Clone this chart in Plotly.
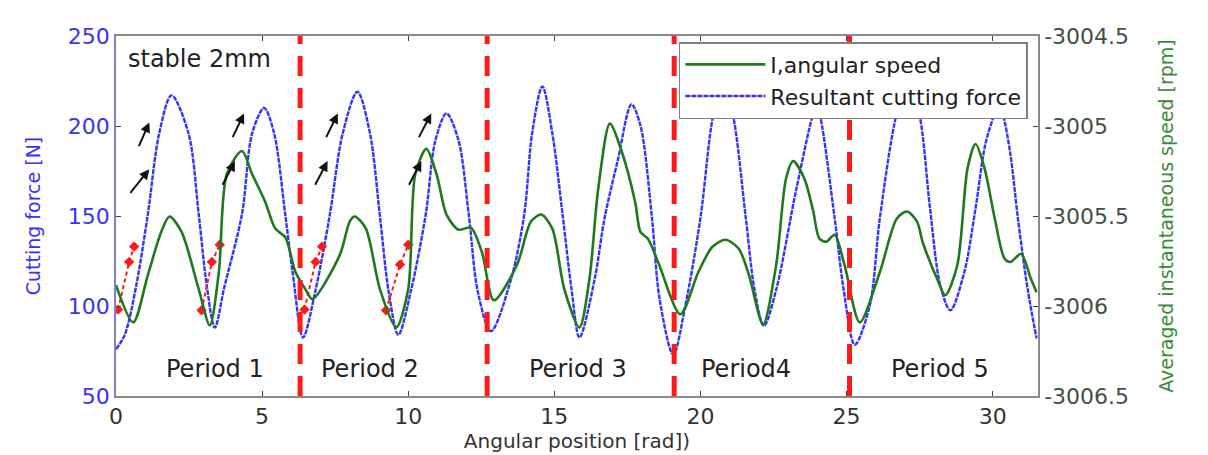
import plotly.graph_objects as go

# ---------------- data ----------------
theta_force = [0.0, 0.3, 0.7, 1.09, 1.48, 1.9, 2.48, 2.83, 3.1, 3.38,
               3.7, 4.31, 4.66, 5.07, 5.41, 5.79, 6.05, 6.4,
               6.83, 7.31, 7.76, 8.26, 8.69, 9.03, 9.33, 9.66,
               10.1, 10.6, 10.93, 11.31, 11.72, 12.07, 12.38, 12.83,
               13.52, 13.97, 14.24, 14.59, 14.93, 15.28, 15.59, 15.86,
               16.38, 16.72, 17.17, 17.64, 17.95, 18.34, 18.6, 19.07,
               19.48, 20.0, 20.45, 20.78, 21.1, 21.55, 21.85, 22.17,
               22.59, 23.28, 23.86, 23.97, 24.1, 24.59, 24.9, 25.28,
               25.79, 26.14, 26.72, 27.1, 27.48, 27.85, 28.2, 28.55,
               29.03, 29.41, 29.75, 30.07, 30.2, 30.34, 30.6, 30.86, 31.2, 31.5]
force_N = [76, 84, 112, 151, 196, 217, 196, 151, 112, 88,
           110, 151, 196, 210, 196, 151, 118, 82.5,
           109, 150, 196, 219, 196, 150, 108, 84,
           109, 151, 192, 207, 192, 151, 108, 86,
           115, 151, 196, 222, 196, 151, 109, 82.5,
           115, 149, 181, 212, 200, 149, 104, 73,
           100, 149, 207, 222, 207, 149, 109, 89,
           109, 165, 207, 211, 205, 149, 109, 78.5,
           100, 149, 207, 223, 207, 155, 112, 97.6,
           119, 154, 190, 207, 212, 207, 185, 149, 109, 82]

theta_speed = [0.0, 0.59, 1.09, 1.55, 1.83, 2.24, 2.83, 3.21,
               3.52, 3.79, 4.31, 4.66, 5.1, 5.45, 5.8, 6.14, 6.48, 6.72,
               7.66, 8.0, 8.17, 8.55, 9.03, 9.59,
               10.0, 10.24, 10.62, 10.97, 11.31, 11.72, 12.14, 12.52, 12.93,
               13.72, 14.2, 14.55, 14.93, 15.34, 15.86,
               16.2, 16.5, 16.9, 17.3, 17.76, 17.95, 18.2, 18.55, 19.31,
               19.93, 20.41, 20.86, 21.31, 21.66, 22.14,
               22.59, 22.93, 23.17, 23.55, 23.86, 24.07, 24.31, 24.59, 24.93, 25.45,
               26.14, 26.72, 27.07, 27.41, 27.6, 28.1, 28.38,
               28.79, 29.14, 29.41, 29.72, 30.07, 30.41, 30.62, 30.97, 31.31, 31.5]
speed_rpm = [-3005.884, -3006.091, -3005.828, -3005.587, -3005.503, -3005.587, -3005.906, -3006.108,
             -3005.811, -3005.268, -3005.139, -3005.268, -3005.419, -3005.57, -3005.62, -3005.811, -3005.906, -3005.962,
             -3005.716, -3005.53, -3005.503, -3005.57, -3005.906, -3006.119,
             -3005.906, -3005.268, -3005.127, -3005.268, -3005.492, -3005.576, -3005.565, -3005.7, -3005.968,
             -3005.772, -3005.531, -3005.492, -3005.57, -3005.906, -3006.119,
             -3005.85, -3005.35, -3004.987, -3005.139, -3005.419, -3005.59, -3005.626, -3005.755, -3006.046,
             -3005.811, -3005.671, -3005.632, -3005.682, -3005.828, -3006.102,
             -3005.772, -3005.29, -3005.195, -3005.29, -3005.475, -3005.626, -3005.643, -3005.604, -3005.772, -3006.091,
             -3005.811, -3005.514, -3005.475, -3005.531, -3005.643, -3005.85, -3005.94,
             -3005.772, -3005.234, -3005.1, -3005.234, -3005.514, -3005.738, -3005.755, -3005.71, -3005.85, -3005.923]

period_bounds = [6.3, 12.7, 19.1, 25.1]
period_labels = ["Period 1", "Period 2", "Period 3", "Period4", "Period 5"]
period_label_theta = [3.4, 8.7, 15.8, 21.55, 28.2]
period_label_level = 65

red_marks_theta = [[0.07, 0.45, 0.62], [2.93, 3.28, 3.55], [6.45, 6.83, 7.05], [9.24, 9.72, 10.0]]
red_marks_force = [[98, 124.5, 133], [97.6, 124.5, 134], [98, 124.5, 133], [97.6, 123, 134]]

arrow_tail_theta = [0.45, 0.76, 3.62, 3.97, 6.79, 7.17, 10.0, 10.34]
arrow_tail_force = [162, 188, 166.5, 193, 166.5, 193, 166.5, 193]
arrow_head_theta = [1.14, 1.14, 4.07, 4.38, 7.24, 7.59, 10.45, 10.79]
arrow_head_force = [176, 202, 180.5, 207, 180.5, 207, 180.5, 207]

x_ticks = [0, 5, 10, 15, 20, 25, 30]
force_ticks = [50, 100, 150, 200, 250]
speed_ticks = [-3006.5, -3006, -3005.5, -3005, -3004.5]
speed_ticktext = ["-3006.5", "-3006", "-3005.5", "-3005", "-3004.5"]

FONT = "DejaVu Sans"
BLUE = "#3535f2"
GREEN = "#1f7a1f"
RED = "#ff1a1a"

fig = go.Figure()

fig.add_trace(go.Scatter(
    x=theta_force, y=force_N, mode="lines", name="Resultant cutting force",
    line=dict(color=BLUE, width=2.4, dash="5px,1px", shape="spline", smoothing=0.9),
    yaxis="y", legendrank=2))

for tx, ty in zip(red_marks_theta, red_marks_force):
    fig.add_trace(go.Scatter(
        x=tx, y=ty, mode="lines+markers", showlegend=False,
        line=dict(color=RED, width=2, dash="4px,3px"),
        marker=dict(color=RED, size=8, symbol="diamond"), yaxis="y"))

fig.add_trace(go.Scatter(
    x=theta_speed, y=speed_rpm, mode="lines", name="I,angular speed",
    line=dict(color=GREEN, width=2.6, shape="spline", smoothing=0.8),
    yaxis="y2", legendrank=1))

for b in period_bounds:
    fig.add_shape(type="line", xref="x", yref="paper", x0=b, x1=b, y0=0, y1=1,
                  line=dict(color=RED, width=5, dash="20px,12px"), layer="above")

annotations = []
for lab, tx in zip(period_labels, period_label_theta):
    annotations.append(dict(x=tx, y=period_label_level, xref="x", yref="y", text=lab,
                            showarrow=False, font=dict(family=FONT, size=24, color="#222")))
annotations.append(dict(x=0.35, y=237.5, xref="x", yref="y", text="stable 2mm",
                        xanchor="left", showarrow=False,
                        font=dict(family=FONT, size=24, color="#222")))
for hx, hy, tx, ty in zip(arrow_head_theta, arrow_head_force, arrow_tail_theta, arrow_tail_force):
    annotations.append(dict(x=hx, y=hy, ax=tx, ay=ty, xref="x", yref="y", axref="x", ayref="y",
                            text="", showarrow=True, arrowhead=2, arrowsize=1,
                            arrowwidth=2, arrowcolor="#111"))

# the page body adds an 8px margin, so the figure is 8px smaller on each used side
fig.update_layout(
    width=1200, height=447,
    margin=dict(l=108, r=170, t=28, b=54),
    paper_bgcolor="white", plot_bgcolor="white",
    font=dict(family=FONT, color="#222"),
    annotations=annotations,
    xaxis=dict(range=[0, 31.55], tickvals=x_ticks, ticks="inside", ticklen=5,
               showline=True, mirror="ticks", linecolor="#8a8a8a", linewidth=1.5,
               showgrid=False, zeroline=False,
               tickfont=dict(family=FONT, size=22, color="#333"),
               title=dict(text="Angular position [rad])", standoff=0,
                          font=dict(family=FONT, size=20, color="#333"))),
    yaxis=dict(range=[50, 250], tickvals=force_ticks, ticks="inside", ticklen=5,
               showline=True, linecolor="#8080d0", linewidth=1.5,
               showgrid=False, zeroline=False,
               tickfont=dict(family=FONT, size=22, color=BLUE),
               title=dict(text="Cutting force [N]", standoff=22,
                          font=dict(family=FONT, size=19, color=BLUE))),
    yaxis2=dict(range=[-3006.5, -3004.5], overlaying="y", side="right",
                tickvals=speed_ticks, ticktext=speed_ticktext, ticks="inside", ticklen=5,
                showline=True, linecolor="#8a8a8a", linewidth=1.5,
                showgrid=False, zeroline=False,
                tickfont=dict(family=FONT, size=22, color="#3f523f"),
                title=dict(text="Averaged instantaneous speed [rpm]", standoff=32,
                           font=dict(family=FONT, size=19, color="#3a8a3a"))),
    legend=dict(x=0.989, y=0.983, xanchor="right", yanchor="top",
                bgcolor="white", bordercolor="#808080", borderwidth=1.5,
                font=dict(family=FONT, size=22, color="#222"),
                itemwidth=80, tracegroupgap=0),
)

fig.write_html("out.html")
